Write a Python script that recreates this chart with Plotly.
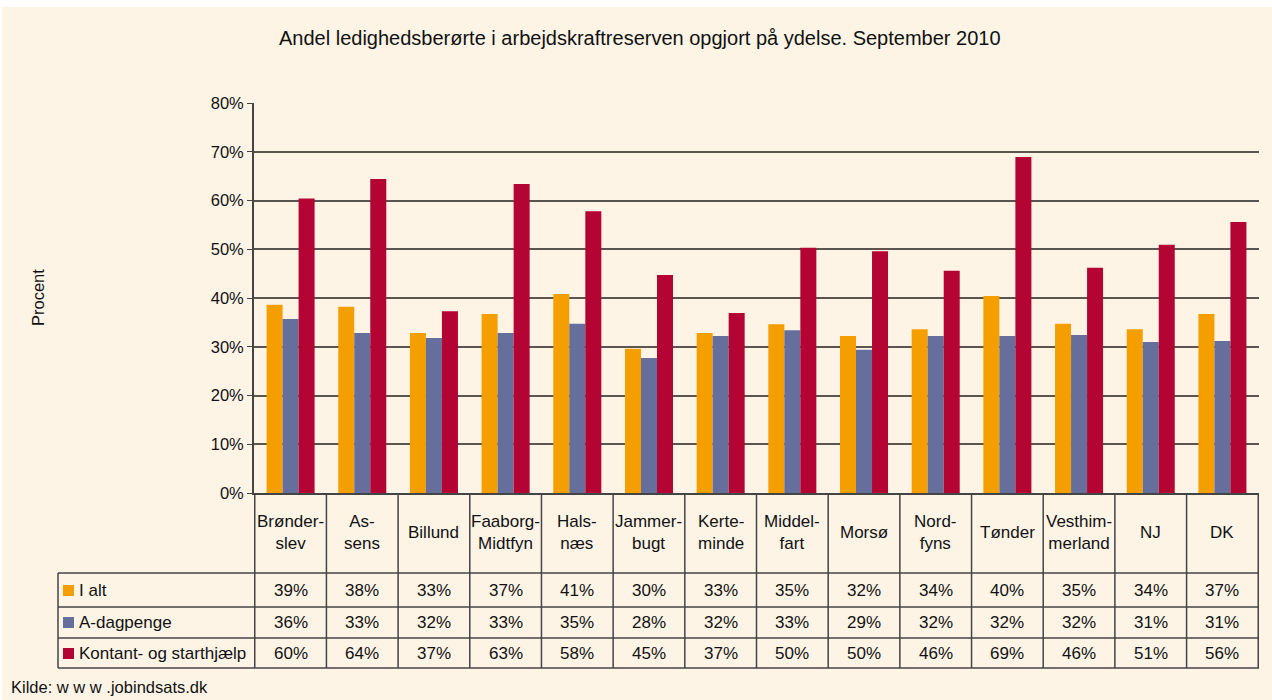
#!/usr/bin/env python3
"""Andel ledighedsberørte i arbejdskraftreserven opgjort på ydelse, sept. 2010 (søjler + datatabel)."""

import plotly.graph_objects as go

# Data (procent)
kommuner = ["Brønder-<br>slev", "As-<br>sens", "Billund", "Faaborg-<br>Midtfyn", "Hals-<br>næs",
            "Jammer-<br>bugt", "Kerte-<br>minde", "Middel-<br>fart", "Morsø", "Nord-<br>fyns",
            "Tønder", "Vesthim-<br>merland", "NJ", "DK"]
i_alt = [38.6, 38.2, 32.8, 36.7, 40.8, 29.6, 32.8, 34.6, 32.2, 33.6, 40.4, 34.7, 33.6, 36.7]
a_dagpenge = [35.7, 32.8, 31.8, 32.8, 34.7, 27.7, 32.2, 33.4, 29.4, 32.2, 32.2, 32.4, 31.0, 31.2]
kontant = [60.4, 64.4, 37.3, 63.4, 57.8, 44.7, 36.9, 50.3, 49.6, 45.6, 68.9, 46.2, 50.9, 55.6]

serier = ["I alt", "A-dagpenge", "Kontant- og starthjælp"]
farver = ["#F59E00", "#666F9B", "#B40434"]

W, H = 1272, 700
L, R, T, B = 254, 13, 103, 207
CREAM = "#FDF4E6"
LINE = "#444444"
TXT = "#111111"
FONT = "Liberation Sans, Arial, sans-serif"
FS = 16.5   # akse
FT = 17     # tabel


def py(pix):
    # pixel-y -> paper-y
    return (H - B - pix) / (H - T - B)


def px(pix):
    # pixel-x -> paper-x
    return (pix - L) / (W - L - R)


def note(text, x, y, xref="paper", xanchor="center", size=FT, **kw):
    return dict(text=text, xref=xref, yref="paper", x=x, y=y, xanchor=xanchor,
                yanchor="middle", showarrow=False, font=dict(size=size, color=TXT), **kw)


fig = go.Figure()
for navn, vals, farve in zip(serier, [i_alt, a_dagpenge, kontant], farver):
    fig.add_trace(go.Bar(x=kommuner, y=vals, name=navn, marker=dict(color=farve, line_width=0)))

shapes = [
    # creme baggrund med smal hvid kant
    dict(type="rect", xref="paper", yref="paper", x0=px(2), x1=px(W), y0=py(H), y1=py(7),
         fillcolor=CREAM, line_width=0, layer="below"),
]

# datatabel: rækkelinjer
for yl in [573, 607, 638, 668]:
    shapes.append(dict(type="line", xref="paper", yref="paper", x0=px(58), x1=1,
                       y0=py(yl), y1=py(yl), line=dict(color=LINE, width=1.5)))
shapes.append(dict(type="line", xref="paper", yref="paper", x0=px(58), x1=px(58),
                   y0=py(573), y1=py(668), line=dict(color=LINE, width=1.5)))
# kolonnelinjer
for i in range(-1, len(kommuner)):
    shapes.append(dict(type="line", xref="x", yref="paper", x0=i + 0.5, x1=i + 0.5,
                       y0=0, y1=py(668), line=dict(color=LINE, width=1.5)))

annotations = [
    note("Andel ledighedsberørte i arbejdskraftreserven opgjort på ydelse. September 2010",
         px(640), py(38), size=20),
    note("Procent", px(38), py(298), size=FS, textangle=-90),
    note("Kilde: w w w .jobindsats.dk", px(9), py(687), xanchor="left", size=FS),
]

# kolonneoverskrifter
for k in kommuner:
    annotations.append(note(k, k, py(532), xref="x"))

# rækker med legend-felt og værdier
row_mid = [590, 622, 653]
for navn, vals, farve, ym in zip(serier, [i_alt, a_dagpenge, kontant], farver, row_mid):
    shapes.append(dict(type="rect", xref="paper", yref="paper", x0=px(63), x1=px(74),
                       y0=py(ym + 6), y1=py(ym - 5), fillcolor=farve, line_width=0))
    annotations.append(note(navn, px(77), py(ym), xanchor="left"))
    for k, v in zip(kommuner, vals):
        annotations.append(note(f"{v:.0f}%", k, py(ym), xref="x"))

fig.update_layout(
    width=W, height=H,
    margin=dict(l=L, r=R, t=T, b=B),
    paper_bgcolor="white", plot_bgcolor=CREAM,
    font=dict(family=FONT, size=FS, color=TXT),
    barmode="group", bargap=0.33, bargroupgap=0,
    showlegend=False,
    xaxis=dict(showticklabels=False, ticks="", showgrid=False, showline=True,
               linecolor=LINE, linewidth=1.5),
    yaxis=dict(range=[0, 80], dtick=10, ticksuffix="%", showgrid=True, gridcolor="#5a564f",
               gridwidth=1.8, showline=True, linecolor=LINE, linewidth=1.8, ticks="outside",
               ticklen=5, tickcolor=LINE, zeroline=False, tickfont=dict(size=FS)),
    shapes=shapes,
    annotations=annotations,
)

fig.write_html("out.html", config={"displayModeBar": False},
               post_script="document.body.style.margin='0';")
